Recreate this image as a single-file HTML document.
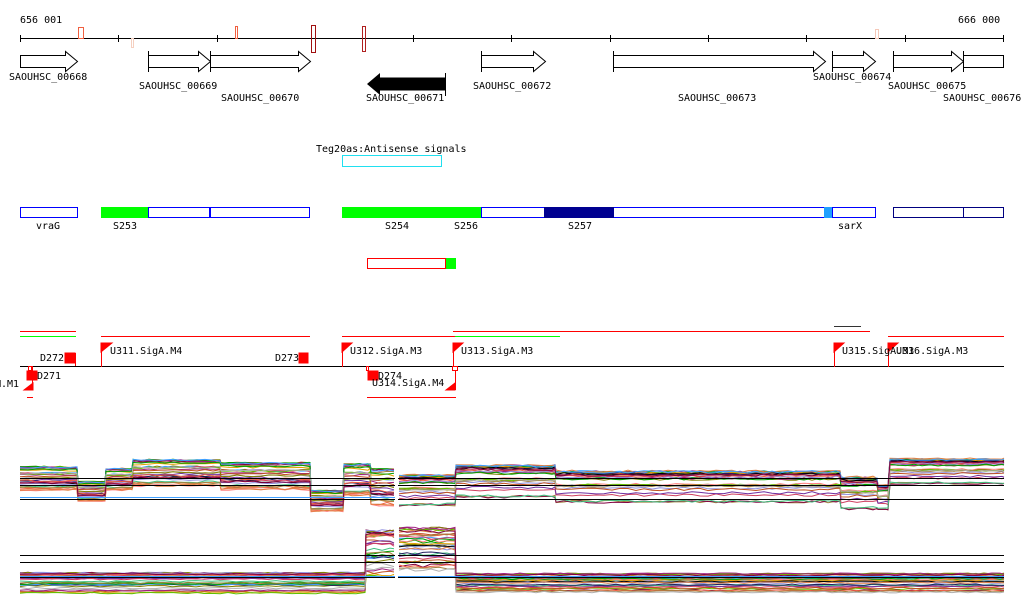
<!DOCTYPE html>
<html><head><meta charset="utf-8"><style>
body{margin:0;background:#fff;width:1024px;height:611px;overflow:hidden}
svg{display:block}
text{font-family:"DejaVu Sans Mono","Liberation Mono",monospace;font-size:10px;fill:#000}
</style></head><body>
<svg id="s" width="1024" height="611" xmlns="http://www.w3.org/2000/svg">
<g id="curves"></g>
<!-- scale -->
<text x="20" y="23">656 001</text><text x="958" y="23">666 000</text>
<line x1="20" y1="38.5" x2="1004" y2="38.5" stroke="#000"/>
<g stroke="#000">
<line x1="20.5" y1="35" x2="20.5" y2="42"/><line x1="118.5" y1="35" x2="118.5" y2="42"/><line x1="217.5" y1="35" x2="217.5" y2="42"/><line x1="315.5" y1="35" x2="315.5" y2="42"/><line x1="413.5" y1="35" x2="413.5" y2="42"/><line x1="511.5" y1="35" x2="511.5" y2="42"/><line x1="610.5" y1="35" x2="610.5" y2="42"/><line x1="708.5" y1="35" x2="708.5" y2="42"/><line x1="806.5" y1="35" x2="806.5" y2="42"/><line x1="905.5" y1="35" x2="905.5" y2="42"/><line x1="1003.5" y1="35" x2="1003.5" y2="42"/>
</g>
<g fill="none">
<rect x="78.5" y="27.5" width="5" height="11" stroke="#f06040"/>
<rect x="131.5" y="38.5" width="2" height="9" stroke="#f5d0c0"/>
<rect x="235.5" y="26.5" width="2" height="12" stroke="#f06040"/>
<rect x="311.5" y="25.5" width="4" height="27" stroke="#a01010"/>
<rect x="362.5" y="26.5" width="3" height="25" stroke="#b02020"/>
<rect x="875.5" y="29.5" width="3" height="9" stroke="#f5c8b8"/>
</g>
<!-- genes -->
<g fill="#fff" stroke="#000">
<path d="M20.5 55.5H65.5V51.5L77.5 61.5L65.5 71.5V67.5H20.5Z"/>
<path d="M148.5 55.5H198.5V51.5L210.5 61.5L198.5 71.5V67.5H148.5Z"/><line x1="148.5" y1="51" x2="148.5" y2="72"/>
<path d="M210.5 55.5H298.5V51.5L310.5 61.5L298.5 71.5V67.5H210.5Z"/><line x1="210.5" y1="51" x2="210.5" y2="72"/>
<path d="M481.5 55.5H533.5V51.5L545.5 61.5L533.5 71.5V67.5H481.5Z"/><line x1="481.5" y1="51" x2="481.5" y2="72"/>
<path d="M613.5 55.5H813.5V51.5L825.5 61.5L813.5 71.5V67.5H613.5Z"/><line x1="613.5" y1="51" x2="613.5" y2="72"/>
<path d="M832.5 55.5H863.5V51.5L875.5 61.5L863.5 71.5V67.5H832.5Z"/><line x1="832.5" y1="51" x2="832.5" y2="72"/>
<path d="M893.5 55.5H951.5V51.5L963.5 61.5L951.5 71.5V67.5H893.5Z"/><line x1="893.5" y1="51" x2="893.5" y2="72"/>
<rect x="963.5" y="55.5" width="40" height="12"/><line x1="963.5" y1="51" x2="963.5" y2="72"/>
</g>
<path d="M367 84L380 73V77.5H445V90.5H380V95Z" fill="#000"/><line x1="445.5" y1="73" x2="445.5" y2="96" stroke="#000"/>
<text x="9" y="80">SAOUHSC_00668</text><text x="139" y="89">SAOUHSC_00669</text><text x="221" y="101">SAOUHSC_00670</text><text x="366" y="101">SAOUHSC_00671</text><text x="473" y="89">SAOUHSC_00672</text><text x="678" y="101">SAOUHSC_00673</text><text x="813" y="80">SAOUHSC_00674</text><text x="888" y="89">SAOUHSC_00675</text><text x="943" y="101">SAOUHSC_00676</text>
<!-- Teg20 -->
<text x="316" y="152">Teg20as:Antisense signals</text>
<rect x="342.5" y="155.5" width="99" height="11" fill="none" stroke="#20e0f0"/>
<!-- bars -->
<g stroke="#0000ff" fill="#fff">
<rect x="20.5" y="207.5" width="57" height="10"/>
<rect x="148.5" y="207.5" width="61" height="10"/>
<rect x="210.5" y="207.5" width="99" height="10"/>
<rect x="481.5" y="207.5" width="63" height="10"/>
<rect x="613.5" y="207.5" width="211" height="10"/>
<rect x="832.5" y="207.5" width="43" height="10"/>
</g>
<g stroke="#000080" fill="#fff"><rect x="893.5" y="207.5" width="70" height="10"/><rect x="963.5" y="207.5" width="40" height="10"/></g>
<rect x="101" y="207" width="47" height="11" fill="#00ff00"/>
<rect x="342" y="207" width="139" height="11" fill="#00ff00"/>
<rect x="544" y="207" width="70" height="11" fill="#000090"/>
<rect x="824" y="207" width="8" height="11" fill="#20a0ff"/>
<text x="36" y="229">vraG</text><text x="113" y="229">S253</text><text x="385" y="229">S254</text><text x="454" y="229">S256</text><text x="568" y="229">S257</text><text x="838" y="229">sarX</text>
<rect x="367.5" y="258.5" width="78" height="10" fill="#fff" stroke="#ff0000"/>
<rect x="446" y="258" width="10" height="11" fill="#00ff00"/>
<!-- operons -->
<g stroke-width="1">
<line x1="20" y1="331.5" x2="76" y2="331.5" stroke="#f00"/>
<line x1="20" y1="336.5" x2="76" y2="336.5" stroke="#0f0"/>
<line x1="101" y1="336.5" x2="310" y2="336.5" stroke="#f00"/>
<line x1="342" y1="336.5" x2="455" y2="336.5" stroke="#f00"/>
<line x1="455" y1="336.5" x2="560" y2="336.5" stroke="#0f0"/>
<line x1="453" y1="331.5" x2="870" y2="331.5" stroke="#f00"/>
<line x1="834" y1="326.5" x2="861" y2="326.5" stroke="#333"/>
<line x1="888" y1="336.5" x2="1004" y2="336.5" stroke="#f00"/>
<line x1="367" y1="397.5" x2="456" y2="397.5" stroke="#f00"/>
<line x1="27" y1="397.5" x2="33" y2="397.5" stroke="#f00"/>
<line x1="20" y1="366.5" x2="1004" y2="366.5" stroke="#000"/>
</g>
<g fill="#f00" stroke="#f00">
<line x1="101.5" y1="343" x2="101.5" y2="367"/><path d="M101 343H112L101 352Z"/>
<line x1="342.5" y1="343" x2="342.5" y2="367"/><path d="M342 343H352L342 352Z"/>
<line x1="453.5" y1="343" x2="453.5" y2="367"/><path d="M453 343H463L453 352Z"/>
<line x1="834.5" y1="343" x2="834.5" y2="367"/><path d="M834 343H844L834 352Z"/>
<line x1="888.5" y1="343" x2="888.5" y2="367"/><path d="M888 343H898L888 352Z"/>
<rect x="65" y="353" width="10" height="10"/><line x1="75.5" y1="353" x2="75.5" y2="366"/>
<rect x="299" y="353" width="9" height="10"/>
<rect x="27" y="371" width="10" height="9"/><line x1="32.5" y1="366" x2="32.5" y2="390"/><path d="M33 383V390H24Z"/>
<rect x="368" y="371" width="10" height="9"/>
<line x1="455.5" y1="366" x2="455.5" y2="390"/><path d="M455 383V390H446Z"/>
</g>
<g fill="#fff" stroke="#f00"><rect x="28.5" y="366.5" width="3" height="4"/><rect x="452.5" y="366.5" width="5" height="4"/><rect x="366.5" y="366.5" width="2" height="4"/></g>
<text x="110" y="354">U311.SigA.M4</text><text x="40" y="361">D272</text><text x="275" y="361">D273</text>
<text x="350" y="354">U312.SigA.M3</text><text x="461" y="354">U313.SigA.M3</text>
<text x="842" y="354">U315.SigA.M3</text><text x="896" y="354">U316.SigA.M3</text>
<text x="37" y="379">D271</text><text x="-5" y="387">M.M1</text>
<text x="378" y="379">D274</text><text x="372" y="386">U314.SigA.M4</text>
</svg>
<script>
(function(){
var g=document.getElementById('curves'),NS='http://www.w3.org/2000/svg';
var seed=7;function r(){seed=(seed*16807)%2147483647;return seed/2147483647;}
var pal=['#c05020','#808000','#60c000','#f06040','#a02080','#9090e0','#e08040','#40a0ff','#00a000','#a08040','#d04060','#b0b0b0','#800040','#e0a000','#7030a0','#ff8080','#40c080','#202060','#000000'];
function band(segs,n){
 for(var i=0;i<n;i++){
  var rk=Math.pow(r(),1.6),d='',c=pal[i%pal.length];
  for(var k=0;k<segs.length;k++){
   var s=segs[k],xs=[];
   for(var x=s[0];x<s[1];x+=8)xs.push(x);
   xs.push(s[1]);
   for(var j=0;j<xs.length;j++){
    var y=s[2]+(rk*0.93+r()*0.07)*(s[3]-s[2]);
    d+=(d?'L':'M')+xs[j]+' '+y.toFixed(1);
   }
  }
  var p=document.createElementNS(NS,'path');p.setAttribute('d',d);p.setAttribute('fill','none');p.setAttribute('stroke',c);p.setAttribute('stroke-width','1');g.appendChild(p);
 }
}
band([[20,77,466,492],[78,105,481,503],[106,132,468,492],[133,220,459,488],[221,310,462,492],[311,343,490,513],[344,370,463,498],[371,394,468,508]],32);
band([[399,455,474,508],[456,555,464,500],[556,840,470,505],[841,877,476,512],[878,888,484,512],[890,1004,458,486]],32);
band([[20,365,572,594],[366,394,529,578]],32);
band([[399,455,527,574],[456,1004,573,594]],32);
function ln(x1,x2,y,c){var l=document.createElementNS(NS,'line');l.setAttribute('x1',x1);l.setAttribute('x2',x2);l.setAttribute('y1',y);l.setAttribute('y2',y);l.setAttribute('stroke',c);g.appendChild(l);}
[478.5,485.5,499.5,555.5,562.5,577.5].forEach(function(y){ln(20,1004,y,'#000');});
ln(20,395,497.5,'#40a0ff');ln(20,1004,576.5,'#40a0ff');
var w=document.createElementNS(NS,'rect');w.setAttribute('x',395);w.setAttribute('y',440);w.setAttribute('width',3);w.setAttribute('height',160);w.setAttribute('fill','#fff');g.appendChild(w);
})();
</script>
</body></html>
